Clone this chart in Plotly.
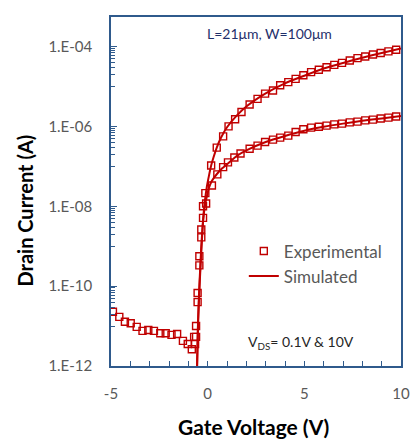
import plotly.graph_objects as go

# ---------------- data ----------------
# Experimental, VDS = 10 V (off-state points included), log10(Id [A])
vg_exp_hi = [-4.9, -4.57, -4.28, -3.98, -3.67, -3.37, -3.07, -2.78, -2.45, -2.17,
             -1.87, -1.58, -1.28, -1.03, -0.82, -0.65, -0.6, -0.52, -0.43, -0.33,
             -0.24, -0.12, 0.18, 0.47, 0.8, 1.08, 1.42, 1.75, 2.17, 2.58, 2.97,
             3.38, 3.75, 4.17, 4.55, 4.95, 5.35, 5.75, 6.15, 6.55, 6.95, 7.35,
             7.75, 8.15, 8.55, 8.95, 9.35, 9.75]
logid_exp_hi = [-10.64, -10.77, -10.89, -10.93, -11.02, -11.12, -11.10, -11.12, -11.18, -11.18,
                -11.22, -11.20, -11.37, -11.45, -11.58, -11.45, -11.0, -10.17, -9.25, -8.58,
                -8.0, -7.67, -6.98, -6.53, -6.25, -6.0, -5.82, -5.64, -5.45, -5.31, -5.18,
                -5.10, -4.97, -4.89, -4.81, -4.72, -4.64, -4.58, -4.52, -4.46, -4.41, -4.35,
                -4.29, -4.25, -4.20, -4.16, -4.12, -4.08]

# Experimental, VDS = 0.1 V
vg_exp_lo = [-0.7, -0.6, -0.52, -0.43, -0.33, -0.24, -0.08, 0.22, 0.5, 0.8, 1.05, 1.38,
             1.7, 2.17, 2.58, 2.97, 3.38, 3.75, 4.17, 4.55, 4.95, 5.35, 5.75, 6.15,
             6.55, 6.95, 7.35, 7.75, 8.15, 8.55, 8.95, 9.35, 9.75]
logid_exp_lo = [-11.27, -11.27, -10.40, -9.48, -8.78, -8.29, -7.93, -7.48, -7.20, -7.02, -6.90, -6.78,
                -6.68, -6.56, -6.48, -6.39, -6.33, -6.28, -6.23, -6.14, -6.07, -6.03, -6.01, -5.98,
                -5.95, -5.93, -5.90, -5.88, -5.85, -5.83, -5.80, -5.78, -5.75]

# Simulated, VDS = 10 V
vg_sim_hi = [-0.56, -0.5, -0.42, -0.33, -0.24, -0.14, -0.04, 0.06, 0.18, 0.3, 0.47, 0.7,
             1.0, 1.5, 2.0, 3.0, 4.0, 5.0, 6.0, 7.0, 8.0, 9.0, 10.0]
logid_sim_hi = [-12.3, -10.9, -9.9, -9.0, -8.35, -7.85, -7.5, -7.25, -6.98, -6.78, -6.53, -6.27,
                -6.02, -5.73, -5.50, -5.17, -4.92, -4.73, -4.55, -4.41, -4.28, -4.16, -4.05]

# Simulated, VDS = 0.1 V
vg_sim_lo = [-0.56, -0.5, -0.42, -0.33, -0.24, -0.14, -0.04, 0.06, 0.2, 0.35, 0.5, 0.75,
             1.0, 1.5, 2.0, 3.0, 4.0, 5.0, 6.0, 7.0, 8.0, 9.0, 10.0]
logid_sim_lo = [-12.3, -11.0, -10.0, -9.15, -8.4, -7.98, -7.75, -7.55, -7.38, -7.27, -7.18, -7.05,
                -6.95, -6.74, -6.60, -6.39, -6.24, -6.11, -6.01, -5.93, -5.86, -5.80, -5.74]

y_tick_vals = [1e-12, 1e-10, 1e-8, 1e-6, 1e-4]
y_tick_text = ["1.E-12", "1.E-10", "1.E-08", "1.E-06", "1.E-04"]
x_tick_vals = [-5, 0, 5, 10]

# ---------------- styling ----------------
RED = "#C00000"
AXIS = "#2F5A8C"
GRAY = "#595959"
FONT = "Lato"

def tolin(v):
    return [10 ** a for a in v]

fig = go.Figure()

for xs, ys in [(vg_sim_hi, logid_sim_hi), (vg_sim_lo, logid_sim_lo)]:
    fig.add_trace(go.Scatter(x=xs, y=tolin(ys), mode="lines",
                             line=dict(color=RED, width=2, shape="spline", smoothing=0.6),
                             showlegend=False, hoverinfo="skip"))

for xs, ys in [(vg_exp_hi, logid_exp_hi), (vg_exp_lo, logid_exp_lo)]:
    fig.add_trace(go.Scatter(x=xs, y=tolin(ys), mode="markers",
                             marker=dict(symbol="square-open", size=7, color=RED,
                                         line=dict(color=RED, width=1.4)),
                             showlegend=False))

# legend entries
fig.add_trace(go.Scatter(x=[None], y=[None], mode="markers", name="Experimental",
                         marker=dict(symbol="square-open", size=7, color=RED,
                                     line=dict(color=RED, width=1.4))))
fig.add_trace(go.Scatter(x=[None], y=[None], mode="lines", name="Simulated",
                         line=dict(color=RED, width=2)))

# minor log ticks (1..9 x odd decades)
minor_vals = [k * 10.0 ** n for n in (-11, -9, -7, -5) for k in range(1, 10)]

fig.update_layout(
    width=420, height=446,
    margin=dict(l=111, r=10, t=17, b=80),
    paper_bgcolor="white", plot_bgcolor="white",
    font=dict(family=FONT, color=GRAY),
    showlegend=True,
    legend=dict(x=0.458, y=0.38, xanchor="left", yanchor="top",
                font=dict(size=17, color=GRAY, family=FONT),
                bgcolor="rgba(0,0,0,0)", itemwidth=30, tracegroupgap=0),
    xaxis=dict(range=[-5, 10], tickvals=x_tick_vals, ticktext=[str(v) for v in x_tick_vals],
               showline=True, linecolor=AXIS, linewidth=1.5, mirror=True,
               ticks="inside", ticklen=5, tickcolor=AXIS, tickwidth=1.3,
               minor=dict(dtick=1, tick0=0, ticks="inside", ticklen=5, tickcolor=AXIS,
                          tickwidth=1.3, showgrid=False),
               showgrid=False, zeroline=False,
               tickfont=dict(size=15, color=GRAY, family=FONT), ticklabelstandoff=13),
    yaxis=dict(type="log", range=[-12, -3.26], tickvals=y_tick_vals, ticktext=y_tick_text,
               showline=True, linecolor=AXIS, linewidth=1.5, mirror=True,
               ticks="inside", ticklen=6, tickcolor=AXIS, tickwidth=1.3,
               minor=dict(tickvals=minor_vals, ticks="inside", ticklen=4, tickcolor=AXIS,
                          tickwidth=1, showgrid=False),
               showgrid=False, zeroline=False,
               tickfont=dict(size=15, color=GRAY, family=FONT), ticklabelstandoff=14),
)

fig.add_annotation(text="<b>Drain Current (A)</b>", xref="paper", yref="paper",
                   x=-0.295, y=0.447, xanchor="center", yanchor="middle",
                   textangle=-90, showarrow=False,
                   font=dict(size=20, color="black", family=FONT))
fig.add_annotation(text="<b>Gate Voltage (V)</b>", xref="paper", yref="paper",
                   x=0.4916, y=-0.174, xanchor="center", yanchor="middle", showarrow=False,
                   font=dict(size=21, color="black", family=FONT))
fig.add_annotation(text="L=21μm, W=100μm", xref="paper", yref="paper",
                   x=0.545, y=0.954, xanchor="center", yanchor="middle", showarrow=False,
                   font=dict(size=14, color="#1F2F6B", family=FONT))
fig.add_annotation(text="V<sub>DS</sub>= 0.1V &amp; 10V", xref="paper", yref="paper",
                   x=0.654, y=0.066, xanchor="center", yanchor="middle", showarrow=False,
                   font=dict(size=14, color="#262626", family=FONT))

fig.write_html("out.html")
